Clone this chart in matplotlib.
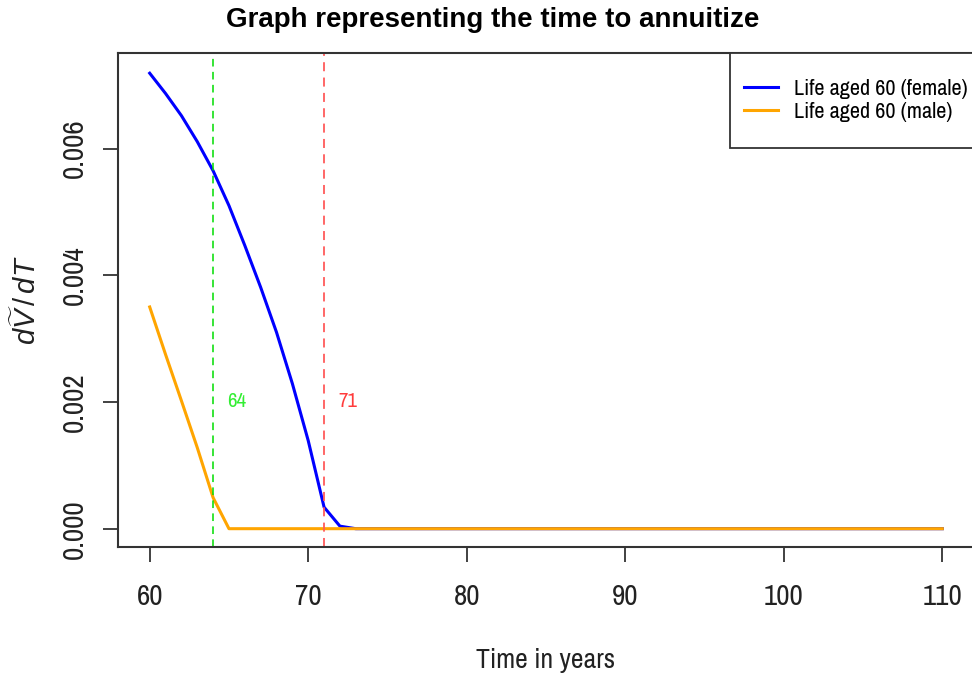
import numpy as np
import matplotlib
matplotlib.use("Agg")
import matplotlib.pyplot as plt
from matplotlib.patches import Rectangle
from matplotlib.ticker import FormatStrFormatter

NARROW = ['Archivo Narrow', 'DejaVu Sans Condensed', 'Liberation Sans', 'DejaVu Sans']
plt.rcParams['font.family'] = NARROW
plt.rcParams['mathtext.fontset'] = 'custom'
plt.rcParams['mathtext.it'] = 'Liberation Sans:italic'
plt.rcParams['mathtext.rm'] = 'Liberation Sans'

ages = np.arange(60, 111)

# ages 60..72 (female) and 60..65 (male), zero after that
female_head = [0.00719, 0.00687, 0.00652, 0.00611, 0.00565, 0.00510, 0.00447,
               0.00381, 0.00310, 0.00229, 0.00139, 0.00034, 0.00004]
male_head = [0.00350, 0.00275, 0.00202, 0.00128, 0.00049, 0.0]

female = np.zeros(len(ages))
female[:len(female_head)] = female_head
male = np.zeros(len(ages))
male[:len(male_head)] = male_head

cut_male = 64
cut_female = 71

W, H = 972, 679
fig = plt.figure(figsize=(W/100, H/100), dpi=100)
ax = fig.add_axes([118/W, 1 - 547/H, (974-118)/W, (547-53)/H])

ax.plot(ages, female, color='#0000ff', lw=2.2, label='Life aged 60 (female)')
ax.plot(ages, male, color='#ffa500', lw=2.2, label='Life aged 60 (male)')
ax.axvline(cut_male, color='#00dd00', ls=(0, (5, 3.5)), lw=1.1)
ax.axvline(cut_female, color='#ff5a5a', ls=(0, (5, 3.5)), lw=1.3)
ax.text(cut_male + 1.5, 0.002, str(cut_male), color='#33ee33', fontsize=15,
        ha='center', va='center')
ax.text(cut_female + 1.5, 0.002, str(cut_female), color='#ff3b3b', fontsize=15,
        ha='center', va='center')

ax.set_xlim(58, 112)
ax.set_ylim(-0.000289, 0.007509)
ax.set_xticks([60, 70, 80, 90, 100, 110])
ax.set_yticks([0, 0.002, 0.004, 0.006])
ax.yaxis.set_major_formatter(FormatStrFormatter('%.3f'))
ax.tick_params(axis='both', labelsize=21, length=11, width=1.3, color='#333333',
               labelcolor='#222222')
ax.tick_params(axis='x', pad=15)
ax.tick_params(axis='y', pad=11)
for lbl in ax.get_yticklabels():
    lbl.set_rotation(90)
    lbl.set_va('center')
for sp in ax.spines.values():
    sp.set_color('#333333')
    sp.set_linewidth(1.5)

ax.set_xlabel('Time in years', fontsize=20, labelpad=27, color='#222222')
ax.set_ylabel(r'$d\widetilde{V}\,/\,dT$', fontsize=21, labelpad=14, color='#222222')
fig.text(493/W, 1 - 27/H, 'Graph representing the time to annuitize',
         fontsize=20, fontweight='bold', ha='center', va='baseline',
         family=['Liberation Sans', 'DejaVu Sans'])

# legend frame runs past the right edge of the picture, as in the reference
ax.add_patch(Rectangle(((730-118)/856, (547-148)/494), 0.4, (148-53)/494,
                       transform=ax.transAxes, fill=True, facecolor='white',
                       edgecolor='#333333', lw=1.3, clip_on=False, zorder=5))
leg = ax.legend(loc='upper left', bbox_to_anchor=((744-118)/856, (547-79)/494),
                fontsize=16, frameon=False, borderpad=0, borderaxespad=0,
                handlelength=1.55, handletextpad=0.68, labelspacing=0.12)
leg.set_zorder(6)

fig.savefig('out.png', dpi=100)
